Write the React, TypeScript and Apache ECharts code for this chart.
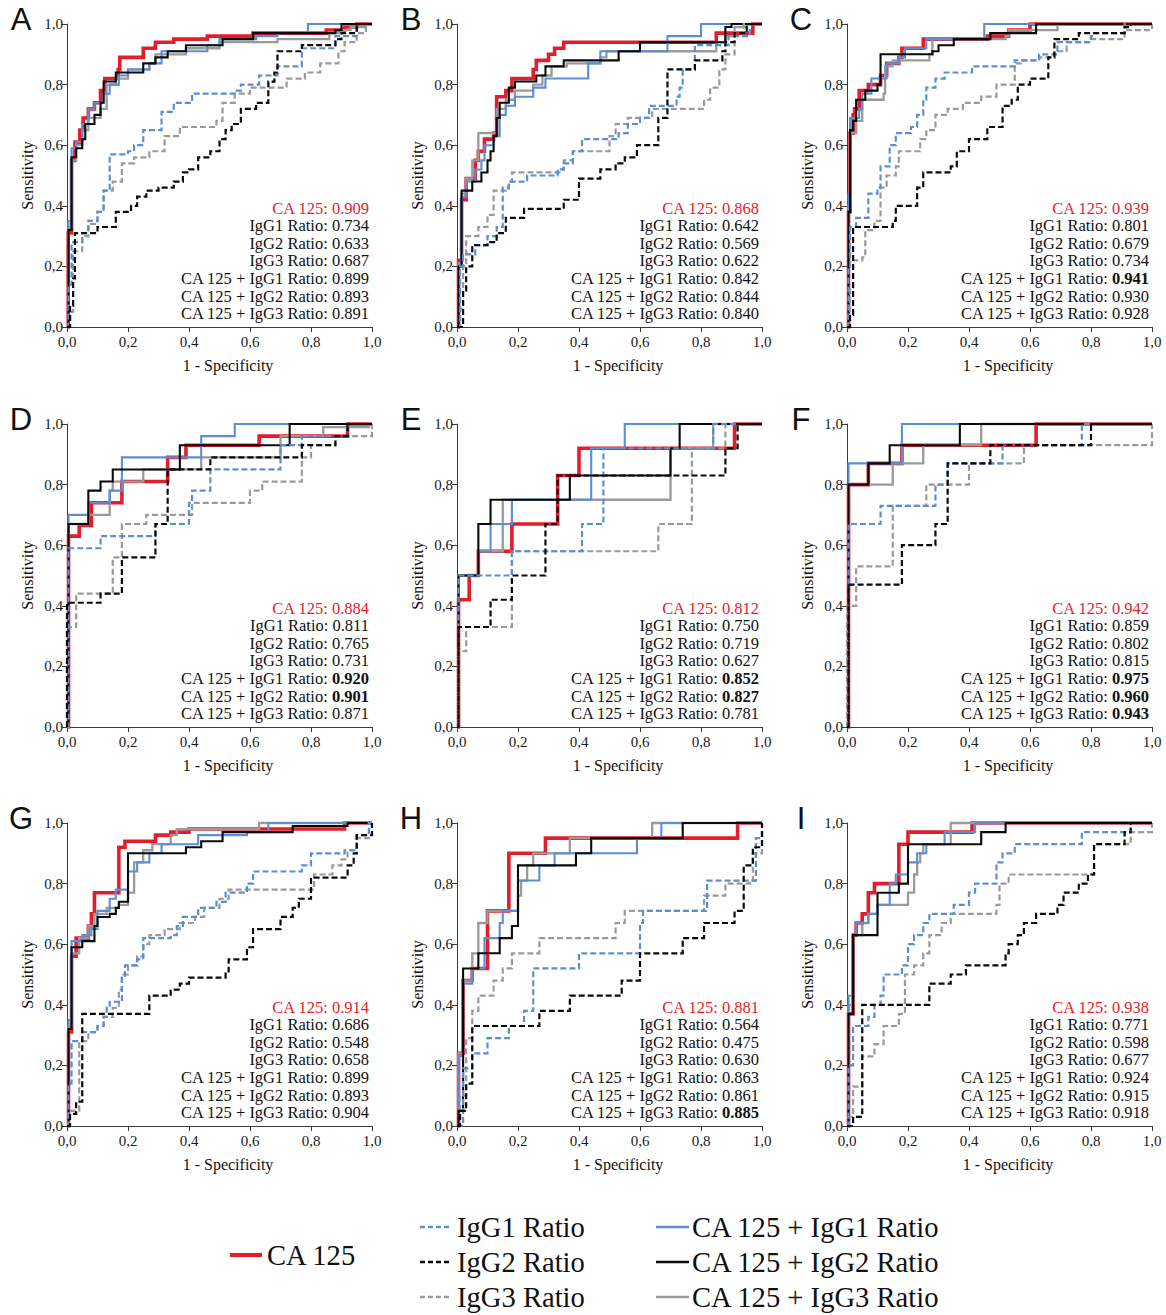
import React, { useEffect, useRef } from 'react';
import * as echarts from 'echarts';

// ---------- labels ----------
const panelLetters = ['A', 'B', 'C', 'D', 'E', 'F', 'G', 'H', 'I'];
const seriesNames = ['CA 125', 'IgG1 Ratio', 'IgG2 Ratio', 'IgG3 Ratio', 'CA 125 + IgG1 Ratio', 'CA 125 + IgG2 Ratio', 'CA 125 + IgG3 Ratio'];

// ---------- AUC values (order as seriesNames) ----------
const aucA = [0.909, 0.734, 0.633, 0.687, 0.899, 0.893, 0.891];
const aucB = [0.868, 0.642, 0.569, 0.622, 0.842, 0.844, 0.840];
const aucC = [0.939, 0.801, 0.679, 0.734, 0.941, 0.930, 0.928];
const aucD = [0.884, 0.811, 0.765, 0.731, 0.920, 0.901, 0.871];
const aucE = [0.812, 0.750, 0.719, 0.627, 0.852, 0.827, 0.781];
const aucF = [0.942, 0.859, 0.802, 0.815, 0.975, 0.960, 0.943];
const aucG = [0.914, 0.686, 0.548, 0.658, 0.899, 0.893, 0.904];
const aucH = [0.881, 0.564, 0.475, 0.630, 0.863, 0.861, 0.885];
const aucI = [0.938, 0.771, 0.598, 0.677, 0.924, 0.915, 0.918];
// indices of AUCs printed in bold
const boldA: number[] = [];
const boldB: number[] = [];
const boldC = [4];
const boldD = [4, 5];
const boldE = [4, 5];
const boldF = [4, 5, 6];
const boldG: number[] = [];
const boldH = [6];
const boldI: number[] = [];

// ---------- ROC curves: [1-specificity, sensitivity after the rise at that x] ----------
// Panel A
const A_ca = [[0,0],[0.004,0.31],[0.015,0.55],[0.026,0.61],[0.042,0.65],[0.053,0.69],[0.07,0.72],[0.09,0.74],[0.11,0.78],[0.124,0.82],[0.168,0.85],[0.173,0.89],[0.25,0.92],[0.29,0.94],[0.35,0.95],[0.46,0.96],[0.61,0.97],[0.85,0.98],[0.91,0.99],[0.95,1],[1,1]];
const A_r1 = [[0,0],[0.005,0.14],[0.015,0.28],[0.05,0.31],[0.07,0.35],[0.1,0.38],[0.12,0.45],[0.14,0.57],[0.2,0.58],[0.22,0.60],[0.25,0.65],[0.31,0.71],[0.35,0.74],[0.41,0.77],[0.55,0.78],[0.57,0.80],[0.63,0.83],[0.69,0.86],[0.77,0.92],[0.88,0.96],[0.95,1],[1,1]];
const A_r2 = [[0,0],[0.01,0.07],[0.02,0.16],[0.026,0.31],[0.1,0.33],[0.16,0.38],[0.21,0.40],[0.23,0.43],[0.26,0.45],[0.3,0.46],[0.35,0.48],[0.38,0.51],[0.4,0.52],[0.43,0.56],[0.47,0.58],[0.5,0.62],[0.52,0.65],[0.54,0.67],[0.57,0.72],[0.62,0.74],[0.66,0.81],[0.68,0.84],[0.69,0.91],[0.77,0.93],[0.88,0.95],[0.9,0.97],[0.95,1],[1,1]];
const A_r3 = [[0,0],[0.01,0.05],[0.02,0.25],[0.05,0.30],[0.07,0.34],[0.1,0.38],[0.12,0.45],[0.15,0.48],[0.18,0.54],[0.22,0.56],[0.27,0.58],[0.32,0.63],[0.37,0.66],[0.49,0.68],[0.51,0.74],[0.55,0.77],[0.6,0.79],[0.72,0.82],[0.78,0.84],[0.83,0.87],[0.89,0.91],[0.91,0.94],[0.95,0.97],[0.98,1],[1,1]];
const A_c1 = [[0,0],[0.004,0.35],[0.015,0.59],[0.03,0.61],[0.05,0.67],[0.07,0.72],[0.09,0.74],[0.12,0.77],[0.14,0.80],[0.17,0.83],[0.2,0.85],[0.27,0.87],[0.31,0.91],[0.46,0.93],[0.5,0.95],[0.62,0.96],[0.69,0.97],[0.79,1],[1,1]];
const A_c2 = [[0,0],[0.005,0.32],[0.015,0.56],[0.03,0.59],[0.05,0.62],[0.06,0.67],[0.09,0.70],[0.11,0.74],[0.12,0.81],[0.16,0.84],[0.25,0.87],[0.29,0.89],[0.33,0.91],[0.39,0.93],[0.51,0.95],[0.61,0.97],[0.88,0.98],[0.9,1],[1,1]];
const A_c3 = [[0,0],[0.005,0.33],[0.015,0.55],[0.03,0.60],[0.05,0.65],[0.07,0.69],[0.11,0.72],[0.13,0.80],[0.16,0.82],[0.2,0.85],[0.27,0.87],[0.29,0.90],[0.39,0.92],[0.5,0.94],[0.69,0.95],[0.86,0.97],[0.9,0.98],[0.93,0.99],[0.98,1],[1,1]];
// Panel B
const B_ca = [[0,0],[0.005,0.22],[0.015,0.42],[0.03,0.49],[0.06,0.55],[0.07,0.58],[0.09,0.62],[0.12,0.64],[0.13,0.76],[0.16,0.78],[0.18,0.82],[0.25,0.85],[0.26,0.88],[0.3,0.90],[0.32,0.92],[0.35,0.94],[0.85,0.97],[0.97,1],[1,1]];
const B_r1 = [[0,0],[0.01,0.2],[0.02,0.24],[0.06,0.27],[0.1,0.30],[0.13,0.33],[0.15,0.46],[0.17,0.48],[0.23,0.50],[0.33,0.52],[0.35,0.54],[0.38,0.58],[0.41,0.62],[0.53,0.64],[0.56,0.67],[0.6,0.69],[0.63,0.73],[0.72,0.76],[0.73,0.79],[0.74,0.85],[0.78,0.93],[0.89,0.96],[0.96,1],[1,1]];
const B_r2 = [[0,0],[0.02,0.12],[0.03,0.2],[0.05,0.27],[0.1,0.28],[0.13,0.31],[0.16,0.36],[0.22,0.39],[0.35,0.42],[0.4,0.49],[0.47,0.52],[0.52,0.54],[0.55,0.56],[0.59,0.60],[0.66,0.66],[0.66,0.69],[0.69,0.85],[0.78,0.88],[0.87,0.91],[0.88,0.94],[0.91,0.97],[0.95,1],[1,1]];
const B_r3 = [[0,0],[0.01,0.06],[0.02,0.20],[0.03,0.30],[0.07,0.33],[0.1,0.37],[0.12,0.45],[0.17,0.48],[0.18,0.51],[0.34,0.52],[0.35,0.55],[0.38,0.58],[0.5,0.63],[0.52,0.67],[0.56,0.69],[0.64,0.72],[0.81,0.75],[0.83,0.79],[0.86,0.85],[0.88,0.90],[0.91,0.96],[0.94,1],[1,1]];
const B_c1 = [[0,0],[0.005,0.2],[0.015,0.43],[0.03,0.48],[0.06,0.52],[0.08,0.55],[0.09,0.60],[0.12,0.63],[0.14,0.70],[0.16,0.73],[0.19,0.76],[0.25,0.79],[0.29,0.82],[0.43,0.87],[0.47,0.91],[0.69,0.96],[0.8,1],[1,1]];
const B_c2 = [[0,0],[0.005,0.2],[0.015,0.45],[0.05,0.48],[0.08,0.51],[0.1,0.55],[0.11,0.58],[0.12,0.63],[0.13,0.69],[0.14,0.74],[0.17,0.79],[0.19,0.81],[0.26,0.83],[0.29,0.86],[0.35,0.88],[0.53,0.91],[0.6,0.94],[0.88,0.99],[0.9,1],[1,1]];
const B_c3 = [[0,0],[0.005,0.21],[0.015,0.44],[0.03,0.49],[0.05,0.55],[0.07,0.64],[0.13,0.72],[0.16,0.75],[0.19,0.78],[0.25,0.80],[0.28,0.83],[0.31,0.86],[0.36,0.87],[0.47,0.89],[0.49,0.91],[0.85,0.94],[0.88,0.96],[0.91,0.99],[0.95,1],[1,1]];
// Panel C
const C_ca = [[0,0],[0.005,0.38],[0.01,0.64],[0.02,0.70],[0.025,0.72],[0.04,0.78],[0.07,0.80],[0.11,0.83],[0.13,0.87],[0.17,0.89],[0.18,0.92],[0.25,0.95],[0.46,0.96],[0.53,0.98],[0.6,1],[1,1]];
const C_r1 = [[0,0],[0.005,0.2],[0.01,0.33],[0.03,0.36],[0.07,0.44],[0.1,0.46],[0.11,0.53],[0.14,0.60],[0.16,0.64],[0.21,0.66],[0.23,0.70],[0.25,0.75],[0.26,0.79],[0.29,0.82],[0.32,0.84],[0.41,0.86],[0.55,0.88],[0.63,0.90],[0.69,0.94],[0.8,0.96],[0.81,0.97],[0.91,1],[1,1]];
const C_r2 = [[0,0],[0.01,0.04],[0.02,0.33],[0.15,0.35],[0.16,0.40],[0.23,0.46],[0.25,0.51],[0.34,0.53],[0.36,0.58],[0.4,0.62],[0.46,0.66],[0.51,0.73],[0.54,0.75],[0.56,0.80],[0.6,0.82],[0.66,0.89],[0.68,0.95],[0.76,0.97],[0.91,0.99],[0.93,1],[1,1]];
const C_r3 = [[0,0],[0.005,0.04],[0.01,0.13],[0.02,0.22],[0.05,0.23],[0.06,0.32],[0.09,0.35],[0.11,0.46],[0.13,0.50],[0.16,0.53],[0.17,0.58],[0.24,0.62],[0.26,0.65],[0.29,0.70],[0.33,0.72],[0.38,0.74],[0.44,0.76],[0.49,0.80],[0.55,0.87],[0.57,0.88],[0.63,0.89],[0.68,0.91],[0.72,0.94],[0.8,0.95],[0.91,0.98],[1,1]];
const C_c1 = [[0,0],[0.005,0.44],[0.01,0.69],[0.04,0.72],[0.05,0.77],[0.08,0.82],[0.13,0.87],[0.17,0.89],[0.19,0.92],[0.26,0.95],[0.45,1],[1,1]];
const C_c2 = [[0,0],[0.005,0.38],[0.01,0.65],[0.02,0.68],[0.03,0.75],[0.06,0.78],[0.1,0.80],[0.11,0.90],[0.28,0.91],[0.30,0.93],[0.35,0.95],[0.47,0.97],[0.62,1],[1,1]];
const C_c3 = [[0,0],[0.005,0.40],[0.01,0.64],[0.03,0.68],[0.05,0.75],[0.12,0.77],[0.125,0.86],[0.15,0.88],[0.27,0.90],[0.28,0.95],[0.52,0.96],[0.53,0.98],[0.69,1],[1,1]];
// Panel D
const D_ca = [[0,0],[0.005,0.63],[0.04,0.665],[0.08,0.74],[0.18,0.81],[0.33,0.89],[0.39,0.93],[0.63,0.96],[0.92,1],[1,1]];
const D_r1 = [[0,0],[0.005,0.59],[0.11,0.63],[0.29,0.67],[0.4,0.74],[0.41,0.78],[0.47,0.85],[0.7,0.93],[0.77,0.96],[0.92,1],[1,1]];
const D_r2 = [[0,0],[0,0.41],[0.11,0.44],[0.18,0.56],[0.29,0.67],[0.33,0.85],[0.47,0.89],[0.77,0.93],[0.88,0.96],[0.92,1],[1,1]];
const D_r3 = [[0,0],[0,0.33],[0.03,0.44],[0.15,0.56],[0.18,0.67],[0.26,0.70],[0.41,0.74],[0.6,0.78],[0.64,0.81],[0.77,0.89],[0.8,0.93],[0.88,0.96],[1,0.96],[1,1]];
const D_c1 = [[0,0],[0.005,0.70],[0.07,0.74],[0.14,0.78],[0.18,0.89],[0.44,0.96],[0.55,1],[1,1]];
const D_c2 = [[0,0],[0.005,0.67],[0.07,0.78],[0.11,0.81],[0.15,0.85],[0.37,0.93],[0.73,1],[1,1]];
const D_c3 = [[0,0],[0.005,0.67],[0.07,0.70],[0.14,0.78],[0.15,0.81],[0.25,0.85],[0.44,0.89],[0.7,0.96],[0.84,0.99],[0.99,1],[1,1]];
// Panel E
const E_ca = [[0,0],[0.005,0.42],[0.04,0.5],[0.07,0.58],[0.18,0.67],[0.33,0.83],[0.36,0.83],[0.4,0.92],[0.91,1],[1,1]];
const E_r1 = [[0,0],[0.005,0.5],[0.18,0.58],[0.41,0.67],[0.48,0.92],[0.84,1],[1,1]];
const E_r2 = [[0,0],[0.005,0.33],[0.11,0.42],[0.18,0.5],[0.29,0.67],[0.33,0.83],[0.88,0.92],[0.92,1],[1,1]];
const E_r3 = [[0,0],[0.005,0.25],[0.03,0.33],[0.18,0.58],[0.66,0.67],[0.77,0.92],[0.88,1],[1,1]];
const E_c1 = [[0,0],[0.005,0.5],[0.07,0.58],[0.11,0.67],[0.18,0.75],[0.44,0.92],[0.55,1],[1,1]];
const E_c2 = [[0,0],[0.005,0.5],[0.07,0.67],[0.11,0.75],[0.37,0.83],[0.7,0.92],[0.73,1],[1,1]];
const E_c3 = [[0,0],[0.005,0.5],[0.07,0.58],[0.15,0.75],[0.7,0.92],[0.84,1],[1,1]];
// Panel F
const F_ca = [[0,0],[0.005,0.80],[0.07,0.87],[0.18,0.93],[0.62,1],[1,1]];
const F_r1 = [[0,0],[0.005,0.67],[0.11,0.73],[0.29,0.80],[0.33,0.87],[0.51,0.93],[0.77,1],[1,1]];
const F_r2 = [[0,0],[0.005,0.47],[0.18,0.60],[0.29,0.67],[0.33,0.87],[0.47,0.93],[0.8,1],[1,1]];
const F_r3 = [[0,0],[0,0.40],[0.03,0.53],[0.15,0.73],[0.26,0.80],[0.4,0.87],[0.58,0.93],[1,0.93],[1,1]];
const F_c1 = [[0,0],[0.005,0.87],[0.18,1],[1,1]];
const F_c2 = [[0,0],[0.005,0.80],[0.07,0.87],[0.14,0.93],[0.37,1],[1,1]];
const F_c3 = [[0,0],[0.005,0.80],[0.15,0.87],[0.25,0.93],[0.44,1],[1,1]];
// Panel G
const G_ca = [[0,0],[0.005,0.31],[0.015,0.56],[0.03,0.62],[0.07,0.66],[0.08,0.70],[0.09,0.77],[0.17,0.92],[0.19,0.94],[0.29,0.96],[0.34,0.97],[0.4,0.98],[0.91,1],[1,1]];
const G_r1 = [[0,0],[0.005,0.14],[0.015,0.28],[0.05,0.31],[0.1,0.33],[0.12,0.36],[0.13,0.39],[0.14,0.41],[0.18,0.49],[0.19,0.53],[0.23,0.55],[0.25,0.62],[0.34,0.63],[0.36,0.66],[0.38,0.69],[0.43,0.72],[0.49,0.74],[0.52,0.77],[0.59,0.80],[0.61,0.84],[0.77,0.86],[0.8,0.90],[0.91,0.91],[0.95,0.96],[0.99,1],[1,1]];
const G_r2 = [[0,0],[0.01,0.04],[0.03,0.08],[0.05,0.37],[0.27,0.43],[0.34,0.45],[0.37,0.47],[0.4,0.49],[0.52,0.51],[0.53,0.55],[0.59,0.59],[0.61,0.65],[0.7,0.69],[0.74,0.72],[0.76,0.75],[0.8,0.82],[0.92,0.86],[0.94,0.9],[0.95,0.96],[1,1]];
const G_r3 = [[0,0],[0.005,0.05],[0.04,0.28],[0.07,0.31],[0.1,0.33],[0.12,0.36],[0.15,0.39],[0.17,0.45],[0.18,0.50],[0.2,0.53],[0.23,0.56],[0.25,0.60],[0.27,0.63],[0.32,0.65],[0.37,0.67],[0.42,0.69],[0.45,0.72],[0.5,0.75],[0.53,0.78],[0.81,0.83],[0.87,0.86],[0.9,0.88],[0.92,0.91],[0.95,0.95],[0.99,1],[1,1]];
const G_c1 = [[0,0],[0.005,0.35],[0.015,0.61],[0.05,0.63],[0.08,0.65],[0.1,0.71],[0.14,0.75],[0.16,0.78],[0.2,0.84],[0.23,0.87],[0.27,0.90],[0.31,0.93],[0.43,0.96],[0.59,0.97],[0.66,1],[1,1]];
const G_c2 = [[0,0],[0.005,0.32],[0.015,0.59],[0.05,0.61],[0.09,0.66],[0.1,0.69],[0.14,0.70],[0.16,0.72],[0.17,0.74],[0.2,0.90],[0.39,0.92],[0.44,0.94],[0.51,0.97],[0.74,0.99],[0.92,1],[1,1]];
const G_c3 = [[0,0],[0.005,0.33],[0.015,0.57],[0.04,0.62],[0.07,0.66],[0.09,0.70],[0.13,0.72],[0.17,0.73],[0.2,0.77],[0.22,0.87],[0.25,0.91],[0.28,0.93],[0.34,0.96],[0.36,0.98],[0.63,1],[1,1]];
// Panel H
const H_ca = [[0,0],[0.005,0.24],[0.02,0.48],[0.05,0.52],[0.1,0.71],[0.17,0.90],[0.29,0.95],[0.92,1],[1,1]];
const H_r1 = [[0,0],[0.02,0.19],[0.05,0.24],[0.1,0.29],[0.17,0.33],[0.22,0.38],[0.25,0.52],[0.4,0.57],[0.6,0.67],[0.61,0.71],[0.82,0.81],[0.98,0.95],[1,1]];
const H_r2 = [[0,0],[0.01,0.05],[0.03,0.14],[0.05,0.33],[0.27,0.38],[0.37,0.43],[0.54,0.48],[0.6,0.57],[0.74,0.62],[0.81,0.67],[0.91,0.71],[0.94,0.86],[0.97,0.92],[1,1]];
const H_r3 = [[0,0],[0.01,0.10],[0.03,0.29],[0.05,0.38],[0.07,0.43],[0.12,0.48],[0.15,0.52],[0.18,0.57],[0.27,0.62],[0.52,0.67],[0.55,0.71],[0.81,0.76],[0.88,0.80],[0.96,0.81],[0.97,0.90],[1,1]];
const H_c1 = [[0,0],[0.005,0.23],[0.02,0.47],[0.05,0.52],[0.09,0.62],[0.14,0.67],[0.15,0.71],[0.2,0.81],[0.27,0.86],[0.32,0.90],[0.59,0.95],[0.67,1],[1,1]];
const H_c2 = [[0,0],[0.005,0.05],[0.02,0.52],[0.07,0.57],[0.14,0.62],[0.18,0.66],[0.2,0.86],[0.39,0.90],[0.44,0.95],[0.74,1],[1,1]];
const H_c3 = [[0,0],[0.005,0.24],[0.02,0.48],[0.05,0.57],[0.07,0.67],[0.1,0.71],[0.2,0.76],[0.21,0.81],[0.23,0.86],[0.25,0.90],[0.37,0.95],[0.64,1],[1,1]];
// Panel I
const I_ca = [[0,0],[0.005,0.37],[0.02,0.63],[0.03,0.67],[0.05,0.70],[0.07,0.77],[0.09,0.80],[0.17,0.93],[0.2,0.97],[0.41,1],[1,1]];
const I_r1 = [[0,0],[0.005,0.2],[0.02,0.33],[0.07,0.36],[0.09,0.40],[0.11,0.43],[0.12,0.50],[0.18,0.53],[0.2,0.60],[0.22,0.63],[0.25,0.67],[0.27,0.70],[0.35,0.73],[0.4,0.77],[0.42,0.80],[0.49,0.87],[0.51,0.90],[0.55,0.93],[0.77,0.97],[0.93,1],[1,1]];
const I_r2 = [[0,0],[0.02,0.03],[0.05,0.40],[0.27,0.47],[0.34,0.50],[0.39,0.53],[0.52,0.57],[0.53,0.60],[0.56,0.63],[0.58,0.67],[0.62,0.70],[0.69,0.73],[0.71,0.77],[0.76,0.80],[0.79,0.83],[0.81,0.93],[0.91,0.97],[0.93,1],[1,1]];
const I_r3 = [[0,0],[0.005,0.03],[0.02,0.13],[0.05,0.23],[0.09,0.27],[0.12,0.33],[0.17,0.37],[0.19,0.50],[0.22,0.53],[0.25,0.57],[0.27,0.63],[0.31,0.67],[0.34,0.70],[0.49,0.73],[0.5,0.80],[0.53,0.83],[0.81,0.93],[0.93,0.97],[1,1]];
const I_c1 = [[0,0],[0.005,0.43],[0.02,0.63],[0.03,0.67],[0.07,0.70],[0.1,0.73],[0.14,0.80],[0.16,0.83],[0.2,0.87],[0.23,0.90],[0.26,0.93],[0.32,0.97],[0.42,1],[1,1]];
const I_c2 = [[0,0],[0.005,0.37],[0.02,0.63],[0.1,0.77],[0.17,0.80],[0.2,0.93],[0.44,0.97],[0.52,1],[1,1]];
const I_c3 = [[0,0],[0.005,0.40],[0.02,0.63],[0.05,0.67],[0.07,0.70],[0.1,0.73],[0.2,0.77],[0.22,0.83],[0.23,0.87],[0.24,0.90],[0.25,0.93],[0.34,1],[1,1]];

// ---------- assembly ----------
const panelCurves = [
  [A_ca, A_r1, A_r2, A_r3, A_c1, A_c2, A_c3],
  [B_ca, B_r1, B_r2, B_r3, B_c1, B_c2, B_c3],
  [C_ca, C_r1, C_r2, C_r3, C_c1, C_c2, C_c3],
  [D_ca, D_r1, D_r2, D_r3, D_c1, D_c2, D_c3],
  [E_ca, E_r1, E_r2, E_r3, E_c1, E_c2, E_c3],
  [F_ca, F_r1, F_r2, F_r3, F_c1, F_c2, F_c3],
  [G_ca, G_r1, G_r2, G_r3, G_c1, G_c2, G_c3],
  [H_ca, H_r1, H_r2, H_r3, H_c1, H_c2, H_c3],
  [I_ca, I_r1, I_r2, I_r3, I_c1, I_c2, I_c3],
];
const panelAuc = [aucA, aucB, aucC, aucD, aucE, aucF, aucG, aucH, aucI];
const panelBold = [boldA, boldB, boldC, boldD, boldE, boldF, boldG, boldH, boldI];

const RED = '#E31D2C';
const BLUE = '#5B8FD4';
const BLACK = '#0a0a0a';
const GRAY = '#9a9a9a';
const SERIF = "'Liberation Serif', 'Times New Roman', serif";
const SANS = "'Liberation Sans', Arial, sans-serif";

const styles = [
  { color: RED, width: 3.6, dash: null },
  { color: BLUE, width: 2.2, dash: [6, 3] },
  { color: BLACK, width: 2.2, dash: [6, 3] },
  { color: GRAY, width: 2.2, dash: [6, 3] },
  { color: BLUE, width: 2.1, dash: null },
  { color: BLACK, width: 2.1, dash: null },
  { color: GRAY, width: 2.3, dash: null },
];
const drawOrder = [0, 6, 4, 5, 3, 1, 2];

const colLeft = [67, 457, 847];
const rowTop = [24, 424, 823];
const GW = 305;
const GH = 303;
const AUC_FONT = 16.5;
const LEGEND_FONT = 28.6;

function fmtTick(v: number) {
  return v.toFixed(1).replace('.', ',');
}

function buildOption() {
  const grid: any[] = [];
  const xAxis: any[] = [];
  const yAxis: any[] = [];
  const series: any[] = [];
  const graphic: any[] = [];

  for (let p = 0; p < 9; p++) {
    const left = colLeft[p % 3];
    const top = rowTop[Math.floor(p / 3)];
    grid.push({ left, top, width: GW, height: GH, containLabel: false });
    const axisCommon = {
      gridIndex: p,
      type: 'value',
      min: 0,
      max: 1,
      interval: 0.2,
      splitLine: { show: false },
      axisLine: { show: true, lineStyle: { color: '#3a3a3a', width: 1 } },
      axisTick: { show: true, length: 5, lineStyle: { color: '#3a3a3a', width: 1 } },
      axisLabel: {
        formatter: (v: number) => fmtTick(v),
        fontFamily: SERIF,
        fontSize: 15,
        color: '#1a1a1a',
      },
    };
    xAxis.push({ ...axisCommon, axisLabel: { ...axisCommon.axisLabel, margin: 7 } });
    yAxis.push({ ...axisCommon, axisLabel: { ...axisCommon.axisLabel, margin: 4 } });

    for (const k of drawOrder) {
      const st = styles[k];
      series.push({
        type: 'line',
        name: seriesNames[k],
        xAxisIndex: p,
        yAxisIndex: p,
        data: panelCurves[p][k],
        step: 'end',
        symbol: 'none',
        showSymbol: false,
        clip: false,
        silent: true,
        lineStyle: { color: st.color, width: st.width, type: st.dash ? st.dash : 'solid', cap: 'butt', join: 'miter' },
      });
    }

    // panel letter
    graphic.push({
      type: 'text',
      x: left - 46,
      y: top - 5,
      style: { text: panelLetters[p], fontFamily: SANS, fontSize: 31, fill: '#111', align: 'center', verticalAlign: 'middle' },
    });
    // axis names
    graphic.push({
      type: 'text',
      x: left + 161,
      y: top + GH + 38,
      style: { text: '1 - Specificity', fontFamily: SERIF, fontSize: 16, fill: '#111', align: 'center', verticalAlign: 'middle' },
    });
    graphic.push({
      type: 'text',
      x: left - 40,
      y: top + GH / 2,
      rotation: Math.PI / 2,
      style: { text: 'Sensitivity', fontFamily: SERIF, fontSize: 16, fill: '#111', align: 'center', verticalAlign: 'middle' },
    });
    // AUC block
    const aucs = panelAuc[p];
    const bold = panelBold[p];
    for (let k = 0; k < 7; k++) {
      const isBold = bold.indexOf(k) >= 0;
      const color = k === 0 ? RED : '#111';
      graphic.push({
        type: 'text',
        x: left + GW - 3,
        y: top + 184 + k * 17.6,
        style: {
          text: `{n|${seriesNames[k]}: }{${isBold ? 'b' : 'n'}|${aucs[k].toFixed(3)}}`,
          align: 'right',
          verticalAlign: 'middle',
          fontFamily: SERIF,
          fontSize: AUC_FONT,
          fill: color,
          rich: {
            n: { fontFamily: SERIF, fontSize: AUC_FONT, fill: color },
            b: { fontFamily: SERIF, fontSize: AUC_FONT, fill: color, fontWeight: 'bold' },
          },
        },
      });
    }
  }

  // legend
  const legendRows = [1227, 1262, 1297];
  graphic.push({ type: 'line', shape: { x1: 230, y1: 1255, x2: 262, y2: 1255 }, style: { stroke: RED, lineWidth: 4 } });
  graphic.push({
    type: 'text', x: 267, y: 1255,
    style: { text: seriesNames[0], fontFamily: SERIF, fontSize: LEGEND_FONT, fill: '#111', align: 'left', verticalAlign: 'middle' },
  });
  for (let r = 0; r < 3; r++) {
    const sd = styles[1 + r];
    const sc = styles[4 + r];
    graphic.push({ type: 'line', shape: { x1: 420, y1: legendRows[r], x2: 450, y2: legendRows[r] }, style: { stroke: sd.color, lineWidth: 2.4, lineDash: [5, 3] } });
    graphic.push({
      type: 'text', x: 457, y: legendRows[r],
      style: { text: seriesNames[1 + r], fontFamily: SERIF, fontSize: LEGEND_FONT, fill: '#111', align: 'left', verticalAlign: 'middle' },
    });
    graphic.push({ type: 'line', shape: { x1: 656, y1: legendRows[r], x2: 689, y2: legendRows[r] }, style: { stroke: sc.color, lineWidth: 2.6 } });
    graphic.push({
      type: 'text', x: 692, y: legendRows[r],
      style: { text: seriesNames[4 + r], fontFamily: SERIF, fontSize: LEGEND_FONT, fill: '#111', align: 'left', verticalAlign: 'middle' },
    });
  }

  return {
    animation: false,
    backgroundColor: '#ffffff',
    grid,
    xAxis,
    yAxis,
    series,
    graphic,
  };
}

export default function App() {
  const ref = useRef<HTMLDivElement>(null);
  useEffect(() => {
    if (!ref.current) return;
    const chart = echarts.init(ref.current, undefined, { renderer: 'svg' });
    chart.setOption(buildOption() as any);
    return () => chart.dispose();
  }, []);
  return (
    <div
      ref={ref}
      style={{ position: 'absolute', left: 0, top: 0, width: 1166, height: 1315, background: '#fff' }}
    />
  );
}
